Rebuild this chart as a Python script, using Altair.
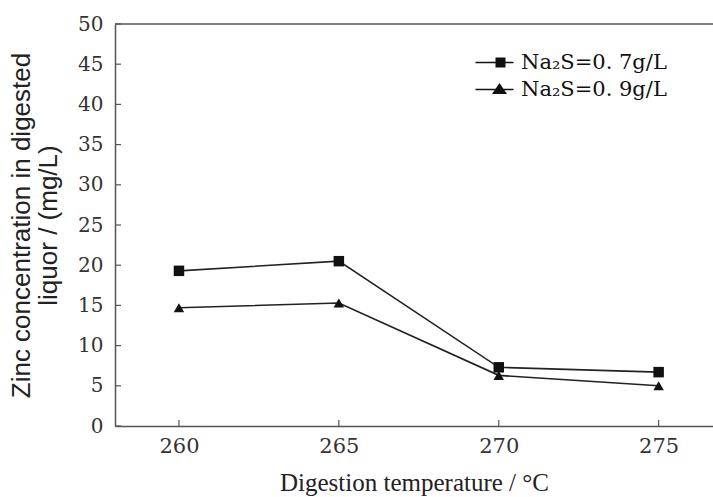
import altair as alt
import pandas as pd

# ---- data ----
temps = [260, 265, 270, 275]
zn_07 = [19.3, 20.5, 7.3, 6.7]
zn_09 = [14.7, 15.3, 6.3, 5.0]
series = ["Na₂S=0. 7g/L", "Na₂S=0. 9g/L"]
y_ticks = [0, 5, 10, 15, 20, 25, 30, 35, 40, 45, 50]
x_ticks = [260, 265, 270, 275]

df = pd.DataFrame({
    "temp": temps * 2,
    "zn": zn_07 + zn_09,
    "series": [series[0]] * 4 + [series[1]] * 4,
})
ytick_df = pd.DataFrame({"temp": [260] * len(y_ticks), "zn": y_ticks})
xtick_df = pd.DataFrame({"temp": x_ticks, "zn": [0] * len(x_ticks)})
top_df = pd.DataFrame({"temp": [260], "zn": [50]})

AX = "#555555"
x_scale = alt.Scale(domain=[258, 276.7], nice=False, zero=False)
y_scale = alt.Scale(domain=[0, 50], nice=False)

x_axis = alt.Axis(
    values=x_ticks, title="Digestion temperature / °C", ticks=False, grid=False,
    domainColor=AX, domainWidth=1.5, labelFont="DejaVu Serif", labelFontSize=21,
    labelColor="#333333", labelPadding=9, titleFont="Liberation Serif",
    titleFontSize=25, titleFontWeight="normal", titleColor="#222222", titlePadding=14,
)
y_axis = alt.Axis(
    values=y_ticks, title=["Zinc concentration in digested", "liquor / (mg/L)"],
    ticks=False, grid=False, domainColor=AX, domainWidth=1.5,
    labelFont="DejaVu Serif", labelFontSize=20, labelColor="#333333", labelPadding=12,
    titleFont="Liberation Sans", titleFontSize=26, titleFontWeight="normal",
    titleColor="#222222", titlePadding=16, titleLineHeight=27,
)

X = alt.X("temp:Q", scale=x_scale, axis=x_axis)
Y = alt.Y("zn:Q", scale=y_scale, axis=y_axis)

base = alt.Chart(df).encode(x=X, y=Y)

lines = base.mark_line(color="#222222", strokeWidth=1.6).encode(detail="series:N")
points = base.mark_point(filled=True, color="#111111", opacity=1, size=110).encode(
    shape=alt.Shape("series:N", scale=alt.Scale(domain=series, range=["square", "triangle-up"]), legend=None)
)

sq_path = "M-2.8,-0.08H1V0.08H-2.8Z M-0.8,-0.5H0.2V0.5H-0.8Z"
tri_path = "M-2.8,-0.08H1V0.08H-2.8Z M-1.15,0.45L-0.4,-0.65L0.35,0.45Z"

legend_layer = alt.Chart(df).transform_filter("datum.temp > 1000").mark_point(
    filled=True, color="#111111", opacity=1, size=400
).encode(
    x=X, y=Y,
    shape=alt.Shape(
        "series:N",
        scale=alt.Scale(domain=series, range=[sq_path, tri_path]),
        legend=alt.Legend(
            title=None, orient="none", legendX=378, legendY=28, padding=0,
            symbolSize=400, symbolFillColor="#111111", symbolStrokeWidth=0,
            labelFont="DejaVu Serif", labelFontSize=21, labelColor="#111111",
            labelOffset=7, rowPadding=5, labelLimit=300,
        ),
    ),
)

ytick = alt.Chart(ytick_df).mark_rule(color=AX, strokeWidth=1.2).encode(
    y=Y, x=alt.value(0), x2=alt.value(6)
)
xtick = alt.Chart(xtick_df).mark_rule(color=AX, strokeWidth=1.2).encode(
    x=X, y=alt.value(402), y2=alt.value(396)
)
top = alt.Chart(top_df).mark_rule(color=AX, strokeWidth=1.5).encode(y=Y)

chart = alt.layer(lines, points, legend_layer, ytick, xtick, top).resolve_scale(
    shape="independent"
).properties(
    width=598, height=402,
    padding={"left": 115, "top": 24, "right": 0, "bottom": 71},
    autosize=alt.AutoSizeParams(type="none"),
    background="white",
).configure_view(stroke=None)

chart.save("out.html", embed_options={"renderer": "svg", "actions": False})
